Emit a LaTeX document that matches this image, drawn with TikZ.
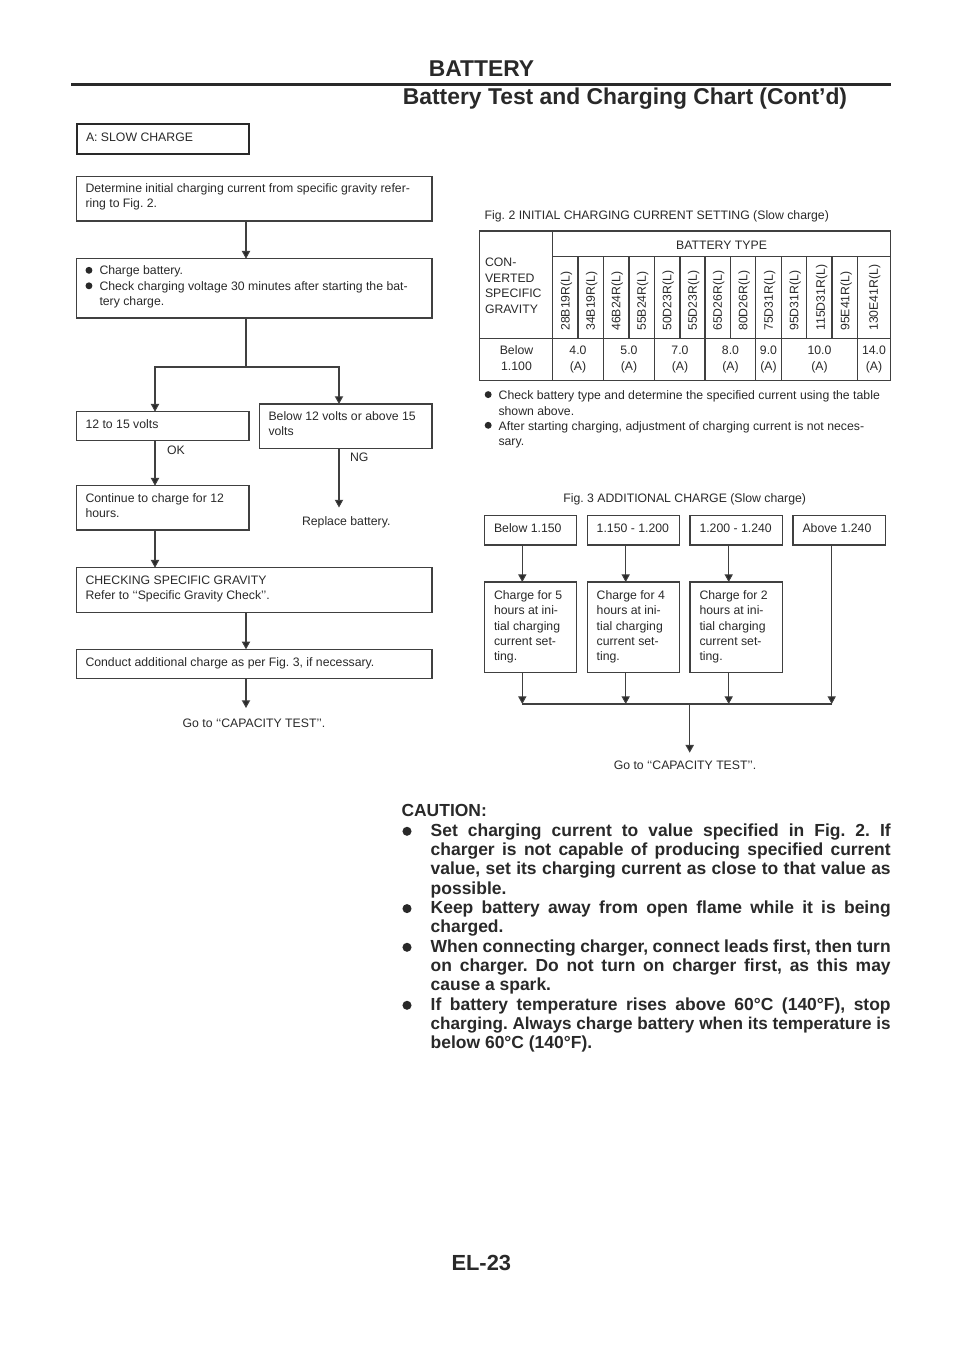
\documentclass[tikz,border=0pt]{standalone}
\usepackage{fontspec}
\setmainfont{Liberation Sans}
\usetikzlibrary{arrows.meta}
\definecolor{ink}{gray}{0.16}
\definecolor{linec}{gray}{0.25}
\frenchspacing
\newcommand{\sbul}{\makebox[10.5pt][l]{\raisebox{0.1em}{\tikz\fill[ink] (0,0) circle[radius=2.6pt];}}}
\tikzset{
 x=0.75pt,y=-0.75pt,
 box/.style={draw=linec,line width=0.8pt},
 thickbox/.style={draw=ink,line width=1.5pt},
 conn/.style={draw=linec,line width=0.8pt},
 arr/.style={conn,-{Triangle[width=6.2pt,length=5.8pt,fill=ink]}},
 txt/.style={anchor=base west,inner sep=0,outer sep=0,text=ink,font=\fontsize{9.2pt}{11.4pt}\selectfont,align=left},
 ctxt/.style={txt,anchor=base,align=center},
 caut/.style={anchor=base west,inner sep=0,outer sep=0,text=ink,font=\bfseries\fontsize{13.1pt}{14.5pt}\selectfont},
 head/.style={anchor=base,inner sep=0,outer sep=0,text=ink,font=\bfseries\fontsize{17.15pt}{20pt}\selectfont},
}
\begin{document}
\begin{tikzpicture}
\useasboundingbox (0,0) rectangle (960,1358);
% header
\node[head] (h1) at (481.5,76.7) {BATTERY};
\coordinate (ruleL) at (71,84.5); \coordinate (ruleR) at (890.5,84.5);
\draw[draw=ink,line width=2.6pt] (ruleL) -- (ruleR);
\node[head] (h2) at (625,105) {Battery Test and Charging Chart (Cont’d)};
\node[head,font=\bfseries\fontsize{16.4pt}{20pt}\selectfont] (foot) at (481.3,1270) {EL-23};
% left flow boxes
\draw[thickbox] (76.7,124) rectangle (249,154);
\node[txt] (ta) at (86,141.5) {A: SLOW CHARGE};
\path[box] (76.7,176.7) rectangle (432,221);
\node[txt] (t1) at (85.5,193) {Determine initial charging current from specific gravity refer-};
\node[txt] (t1b) at (85.5,208) {ring to Fig. 2.};
\path[box] (76.7,258.7) rectangle (432,318);
\node[txt] (t2) at (85.5,275) {\sbul Charge battery.};
\node[txt] (t2b) at (85.5,290.5) {\sbul Check charging voltage 30 minutes after starting the bat-};
\node[txt] (t2c) at (99.5,306) {tery charge.};
\path[box] (76.7,411.7) rectangle (249,440.7);
\node[txt] (t3) at (85.5,428) {12 to 15 volts};
\path[box] (259.3,404) rectangle (432,448.7);
\node[txt] (t4) at (268.5,420.5) {Below 12 volts or above 15};
\node[txt] (t4b) at (268.5,435.5) {volts};
\node[txt] (ok) at (167,454) {OK};
\node[txt] (ng) at (350,461.7) {NG};
\path[box] (76.7,485.7) rectangle (249,530);
\node[txt] (t5) at (85.5,502) {Continue to charge for 12};
\node[txt] (t5b) at (85.5,517.5) {hours.};
\node[txt] (t6) at (302,525.5) {Replace battery.};
\path[box] (76.7,567.7) rectangle (432,612.3);
\node[txt] (t7) at (85.5,584) {CHECKING SPECIFIC GRAVITY};
\node[txt] (t7b) at (85.5,599) {Refer to ‘‘Specific Gravity Check’’.};
\path[box] (76.7,649.3) rectangle (432,678.7);
\node[txt] (t8) at (85.5,666) {Conduct additional charge as per Fig. 3, if necessary.};
\node[txt] (t9) at (182.7,727) {Go to ‘‘CAPACITY TEST’’.};
% left flow connectors
\draw[arr] (246,221) -- (246,258.7);
\draw[conn] (246,318) -- (246,367);
\draw[arr] (246,367) -| (155,411.7);
\draw[arr] (246,367) -| (339,404);
\draw[arr] (155,440.7) -- (155,485.7);
\draw[arr] (339,448.7) -- (339,507.5);
\draw[arr] (155,530) -- (155,567.7);
\draw[arr] (246,612.3) -- (246,649.3);
\draw[arr] (246,678.7) -- (246,708);
% table
\node[txt] (f2) at (484.7,220) {Fig. 2 INITIAL CHARGING CURRENT SETTING (Slow charge)};
\draw[box] (479.3,231) rectangle (890.7,380.7);
\draw[conn] (552.7,231) -- (552.7,380.7);
\draw[conn] (552.7,256.7) -- (890.7,256.7);
\draw[conn] (479.3,338.7) -- (890.7,338.7);
\foreach \x in {578,603.3,629,654.3,680,705,730.3,755.7,781.3,806.7,832,857.3}{\draw[conn] (\x,256.7) -- (\x,338.7);}
\foreach \x in {603.3,654.3,705,755.7,781.3,857.3}{\draw[conn] (\x,338.7) -- (\x,380.7);}
\node[ctxt] (bt) at (721.5,249.3) {BATTERY TYPE};
\node[txt] (c1) at (485,267) {CON-};
\node[txt] (c2) at (485,282.5) {VERTED};
\node[txt] (c3) at (485,298) {SPECIFIC};
\node[txt] (c4) at (485,313.5) {GRAVITY};
\foreach \n/\x/\l in {a/565.3/28B19R(L),b/590.5/34B19R(L),c/616/46B24R(L),d/641.5/55B24R(L),e/667/50D23R(L),f/692.5/55D23R(L),g/717.5/65D26R(L),h/743/80D26R(L),i/768.5/75D31R(L),j/794/95D31R(L),k/820.5/115D31R(L),l/845/95E41R(L),m/873.5/130E41R(L)}{
  \node[txt,anchor=base west,rotate=90] (r\n) at (\x+4.3,330.7) {\l};}
\node[ctxt] (b1) at (516.5,355) {Below};
\node[ctxt] (b2) at (516.5,370.7) {1.100};
\foreach \n/\x/\v in {a/578/4.0,b/629/5.0,c/680/7.0,d/730.5/8.0,e/768.5/9.0,f/819.5/10.0,g/874/14.0}{
  \node[ctxt] (v\n) at (\x,355) {\v};
  \node[ctxt] (w\n) at (\x,370.7) {(A)};}
\node[txt] (n1) at (484.7,399.3) {\sbul Check battery type and determine the specified current using the table};
\node[txt] (n1b) at (498.5,415) {shown above.};
\node[txt] (n2) at (484.7,430) {\sbul After starting charging, adjustment of charging current is not neces-};
\node[txt] (n2b) at (498.5,445.3) {sary.};
% Fig 3
\node[ctxt] (f3) at (684.7,502) {Fig. 3 ADDITIONAL CHARGE (Slow charge)};
\path[box] (484.3,515.7) rectangle (576.7,545);
\path[box] (587.3,515.7) rectangle (679.7,545);
\path[box] (690,515.7) rectangle (782.7,545);
\path[box] (793,515.7) rectangle (885.7,545);
\node[txt] (s1) at (494,532.7) {Below 1.150};
\node[txt] (s2) at (596.7,532.7) {1.150 - 1.200};
\node[txt] (s3) at (699.5,532.7) {1.200 - 1.240};
\node[txt] (s4) at (802.5,532.7) {Above 1.240};
\path[box] (484.3,582) rectangle (576.7,672.7);
\path[box] (587.3,582) rectangle (679.7,672.7);
\path[box] (690,582) rectangle (782.7,672.7);
\foreach \n/\x/\h in {a/494/5,b/596.7/4,c/699.5/2}{
 \node[txt] (p\n1) at (\x,599.3) {Charge for \h};
 \node[txt] (p\n2) at (\x,614.3) {hours at ini-};
 \node[txt] (p\n3) at (\x,630) {tial charging};
 \node[txt] (p\n4) at (\x,645) {current set-};
 \node[txt] (p\n5) at (\x,660.7) {ting.};
}
\foreach \x in {522.3,625.7,728.7}{
 \draw[arr] (\x,545) -- (\x,582);
 \draw[arr] (\x,672.7) -- (\x,704);
}
\draw[arr] (831.7,545) -- (831.7,704);
\draw[conn] (522.3,704) -- (831.7,704);
\draw[arr] (689.7,704) -- (689.7,752.7);
\node[ctxt] (go) at (685,769.3) {Go to ‘‘CAPACITY TEST’’.};
% caution
\node[caut] (ca) at (401.5,816.5) {CAUTION:};
\foreach \y in {831.3,908.6,947.3,1005.3}{
 \fill[ink] (407,\y) circle[radius=3.4pt];
}
\foreach \n/\y/\t in {
 a/836/{Set charging current to value specified in Fig. 2. If},
 b/855.3/{charger is not capable of producing specified current},
 c/874.7/{value, set its charging current as close to that value as},
 e/913.3/{Keep battery away from open flame while it is being},
 g/952/{When connecting charger, connect leads first, then turn},
 h/971.3/{on charger. Do not turn on charger first, as this may},
 j/1010/{If battery temperature rises above 60°C (140°F), stop}}{
 \node[caut] (l\n) at (430.7,\y) {\makebox[345pt][s]{\t}};}
\node[caut,font=\bfseries\fontsize{12.85pt}{14.5pt}\selectfont] (lk) at (430.7,1029.3) {\makebox[345pt][s]{charging. Always charge battery when its temperature is}};
\node[caut] (ld) at (430.7,894) {possible.};
\node[caut] (lf) at (430.7,932.7) {charged.};
\node[caut] (li) at (430.7,990.7) {cause a spark.};
\node[caut] (ll) at (430.7,1048.3) {below 60°C (140°F).};
\end{tikzpicture}
\end{document}
